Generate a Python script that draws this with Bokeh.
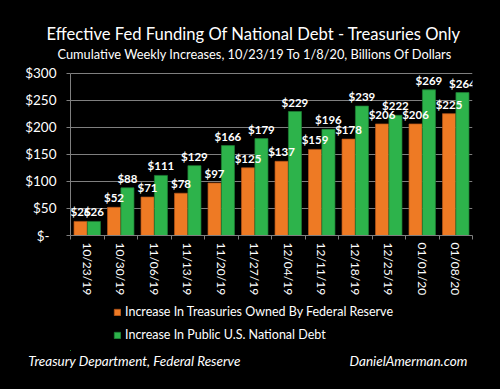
from bokeh.plotting import figure
from bokeh.layouts import column
from bokeh.models import (ColumnDataSource, Range1d, FixedTicker,
                          LabelSet, Legend, LegendItem, Title, LinearAxis)
from bokeh.transform import dodge
from bokeh.core.properties import value
from bokeh.embed import file_html
from bokeh.resources import INLINE

# ---- data ----
dates = ["10/23/19", "10/30/19", "11/06/19", "11/13/19", "11/20/19", "11/27/19",
         "12/04/19", "12/11/19", "12/18/19", "12/25/19", "01/01/20", "01/08/20"]
fed_treasuries = [26, 52, 71, 78, 97, 125, 137, 159, 178, 206, 206, 225]
public_debt = [26, 88, 111, 129, 166, 179, 229, 196, 239, 222, 269, 264]
y_ticks = [0, 50, 100, 150, 200, 250, 300]
y_tick_labels = ["$-\u00a0\u00a0", "$50", "$100", "$150", "$200", "$250", "$300"]
series_names = ["Increase In Treasuries Owned By Federal Reserve",
                "Increase In Public U.S. National Debt"]
title_text = "Effective Fed Funding Of National Debt - Treasuries Only"
subtitle_text = "Cumulative Weekly Increases, 10/23/19 To 1/8/20, Billions Of Dollars"
source_text = "Treasury Department, Federal Reserve"
site_text = "DanielAmerman.com"

ORANGE = "#EE7A24"
GREEN = "#2DB34B"
GRID = "#7F7F7F"
FONT = "Lato"

n = len(dates)
idx = list(range(n))

src = ColumnDataSource(dict(
    idx=idx,
    fed=fed_treasuries,
    pub=public_debt,
    fed_lbl=["$%d" % v for v in fed_treasuries],
    pub_lbl=["$%d" % v for v in public_debt],
))

bar_style = [dict(fill_color=ORANGE, line_color="#B8561A", line_width=0.7),
             dict(fill_color=GREEN, line_color="#1E7F35", line_width=0.7)]

# ================= main chart =================
p = figure(width=500, height=298, x_range=Range1d(-0.5, n - 0.5),
           y_range=Range1d(0, 319.5), output_backend="svg", toolbar_location=None,
           title=None, min_border_left=70, min_border_right=28, min_border_top=62,
           min_border_bottom=56, background_fill_color="black", border_fill_color="black")
p.outline_line_color = None

p.vbar(x=dodge("idx", -0.2), top="fed", width=0.39, bottom=0, source=src, **bar_style[0])
p.vbar(x=dodge("idx", 0.2), top="pub", width=0.39, bottom=0, source=src, **bar_style[1])

for col, ycol, off in (("fed_lbl", "fed", -0.2), ("pub_lbl", "pub", 0.2)):
    p.add_layout(LabelSet(x=dodge("idx", off), y=ycol, text=col, source=src,
                          y_offset=3, text_align="center", text_baseline="bottom",
                          text_color="white", text_font=value(FONT), text_font_size="11.5px",
                          text_font_style="bold"))

p.yaxis.ticker = FixedTicker(ticks=y_ticks)
p.yaxis.bounds = (0, 300)
p.yaxis.major_label_overrides = {t: l for t, l in zip(y_ticks, y_tick_labels)}
p.yaxis.axis_line_color = GRID
p.yaxis.major_tick_line_color = GRID
p.yaxis.major_tick_out = 4
p.yaxis.major_tick_in = 0
p.yaxis.minor_tick_line_color = None
p.yaxis.major_label_standoff = 10
p.yaxis.major_label_text_color = "white"
p.yaxis.major_label_text_font = FONT
p.yaxis.major_label_text_font_size = "13.5px"

p.xaxis.ticker = FixedTicker(ticks=idx, minor_ticks=[i - 0.5 for i in range(n + 1)])
p.xaxis.major_label_overrides = {i: d for i, d in zip(idx, dates)}
p.xaxis.axis_line_color = GRID
p.xaxis.major_tick_line_color = None
p.xaxis.minor_tick_line_color = GRID
p.xaxis.minor_tick_out = 4
p.xaxis.minor_tick_in = 0
p.xaxis.major_tick_out = 0
p.xaxis.major_tick_in = 0
p.xaxis.major_label_orientation = "vertical"
p.xaxis.major_label_standoff = 3
p.xaxis.major_label_text_color = "white"
p.xaxis.major_label_text_font = FONT
p.xaxis.major_label_text_font_size = "12px"

p.xgrid.grid_line_color = None
p.ygrid.grid_line_color = GRID
p.ygrid.grid_line_width = 1

# titles (subtitle first: it sits next to the frame)
p.add_layout(Title(text=subtitle_text, align="left", offset=-13, vertical_align="bottom",
                   standoff=1, text_color="white", text_font=FONT, text_font_size="12.8px",
                   text_font_style="normal"), "above")
p.add_layout(Title(text=title_text, align="left", offset=-24, vertical_align="bottom",
                   standoff=0, text_color="white", text_font=FONT, text_font_size="16.6px",
                   text_font_style="normal"), "above")

# ================= legend + footer strip =================
leg = figure(width=500, height=91, x_range=Range1d(70, 472), y_range=Range1d(1000, 1100),
             output_backend="svg", toolbar_location=None, title=None,
             x_axis_type=None, y_axis_type=None,
             min_border_left=70, min_border_right=28, min_border_top=0, min_border_bottom=39,
             background_fill_color="black", border_fill_color="black")
leg.outline_line_color = None
leg.xgrid.visible = False
leg.ygrid.visible = False

# same bar series (outside this strip's view) so the legend keys use their styling
k1 = leg.vbar(x=dodge("idx", -0.2), top="fed", width=0.39, bottom=0, source=src, **bar_style[0])
k2 = leg.vbar(x=dodge("idx", 0.2), top="pub", width=0.39, bottom=0, source=src, **bar_style[1])

legend = Legend(items=[LegendItem(label=series_names[0], renderers=[k1]),
                       LegendItem(label=series_names[1], renderers=[k2])],
                location=(43, 5), orientation="vertical",
                background_fill_alpha=0, border_line_alpha=0,
                padding=0, margin=0, spacing=2,
                glyph_width=8, glyph_height=8, label_height=21,
                label_standoff=4, label_text_color="white", label_text_font=FONT,
                label_text_font_size="12.5px")
leg.add_layout(legend, "center")

footer_ticks = [134, 408]
foot = LinearAxis(ticker=FixedTicker(ticks=footer_ticks),
                  major_label_overrides={footer_ticks[0]: source_text,
                                         footer_ticks[1]: site_text})
foot.axis_line_color = None
foot.major_tick_line_color = None
foot.minor_tick_line_color = None
foot.major_tick_out = 0
foot.major_tick_in = 0
foot.major_label_standoff = 2
foot.major_label_text_color = "white"
foot.major_label_text_font = FONT
foot.major_label_text_font_size = "13.5px"
foot.major_label_text_font_style = "italic"
leg.add_layout(foot, "below")

layout = column(p, leg, spacing=0, background="black")

html = file_html(layout, INLINE)
html = html.replace("<body>", '<body style="background-color:black;">', 1)
open("out.html", "w").write(html)
